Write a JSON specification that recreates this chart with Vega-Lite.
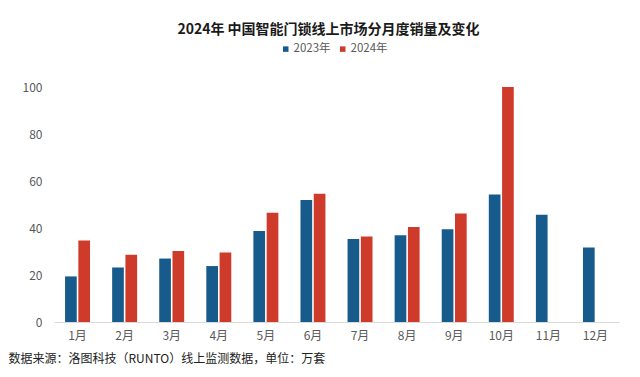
{
  "$schema": "https://vega.github.io/schema/vega-lite/v6.json",
  "width": 565,
  "height": 235,
  "autosize": {"type": "none"},
  "padding": {"left": 54, "top": 87, "right": 21, "bottom": 55},
  "background": "white",
  "config": {
    "font": "Noto Sans CJK SC",
    "view": {"stroke": null}
  },
  "title": {
    "text": "2024年 中国智能门锁线上市场分月度销量及变化",
    "fontSize": 14,
    "fontWeight": "bold",
    "color": "#1a1a1a",
    "anchor": "middle",
    "frame": "group",
    "dx": -8,
    "offset": 6
  },
  "data": {
    "values": [
      {"month": "1月", "year": "2023年", "value": 19.4},
      {"month": "1月", "year": "2024年", "value": 34.7},
      {"month": "2月", "year": "2023年", "value": 23.2},
      {"month": "2月", "year": "2024年", "value": 28.6},
      {"month": "3月", "year": "2023年", "value": 27.0},
      {"month": "3月", "year": "2024年", "value": 30.2},
      {"month": "4月", "year": "2023年", "value": 23.8},
      {"month": "4月", "year": "2024年", "value": 29.6},
      {"month": "5月", "year": "2023年", "value": 38.7},
      {"month": "5月", "year": "2024年", "value": 46.5},
      {"month": "6月", "year": "2023年", "value": 51.9},
      {"month": "6月", "year": "2024年", "value": 54.6},
      {"month": "7月", "year": "2023年", "value": 35.3},
      {"month": "7月", "year": "2024年", "value": 36.4},
      {"month": "8月", "year": "2023年", "value": 36.9},
      {"month": "8月", "year": "2024年", "value": 40.4},
      {"month": "9月", "year": "2023年", "value": 39.5},
      {"month": "9月", "year": "2024年", "value": 46.2},
      {"month": "10月", "year": "2023年", "value": 54.3},
      {"month": "10月", "year": "2024年", "value": 100},
      {"month": "11月", "year": "2023年", "value": 45.6},
      {"month": "12月", "year": "2023年", "value": 31.7}
    ]
  },
  "mark": {"type": "bar"},
  "encoding": {
    "x": {
      "field": "month",
      "type": "nominal",
      "sort": ["1月","2月","3月","4月","5月","6月","7月","8月","9月","10月","11月","12月"],
      "scale": {"paddingInner": 0.47, "paddingOuter": 0.235},
      "axis": {
        "title": "数据来源：洛图科技（RUNTO）线上监测数据，单位：万套",
        "titleFontSize": 12,
        "titleFontWeight": "normal",
        "titleColor": "#222222",
        "titleAnchor": "start",
        "titleAlign": "left",
        "titleBaseline": "middle",
        "titleX": -46,
        "titleY": 36,
        "labelAngle": 0,
        "labelFontSize": 12,
        "labelColor": "#595959",
        "labelPadding": 8,
        "ticks": false,
        "domainColor": "#d9d9d9",
        "domainWidth": 1
      }
    },
    "xOffset": {
      "field": "year",
      "type": "nominal",
      "scale": {"paddingInner": 0.12}
    },
    "y": {
      "field": "value",
      "type": "quantitative",
      "scale": {"domain": [0, 100]},
      "axis": {
        "title": null,
        "values": [0, 20, 40, 60, 80, 100],
        "grid": false,
        "domain": false,
        "ticks": false,
        "labelFontSize": 12,
        "labelColor": "#595959",
        "labelPadding": 12
      }
    },
    "color": {
      "field": "year",
      "type": "nominal",
      "scale": {"domain": ["2023年", "2024年"], "range": ["#175b8c", "#cf3b2b"]},
      "legend": {
        "title": null,
        "orient": "none",
        "direction": "horizontal",
        "legendX": 226,
        "legendY": -44,
        "symbolType": "square",
        "symbolSize": 30,
        "symbolStrokeWidth": 0,
        "labelFontSize": 11.5,
        "labelColor": "#595959",
        "labelOffset": 2,
        "columnPadding": 6
      }
    }
  }
}
